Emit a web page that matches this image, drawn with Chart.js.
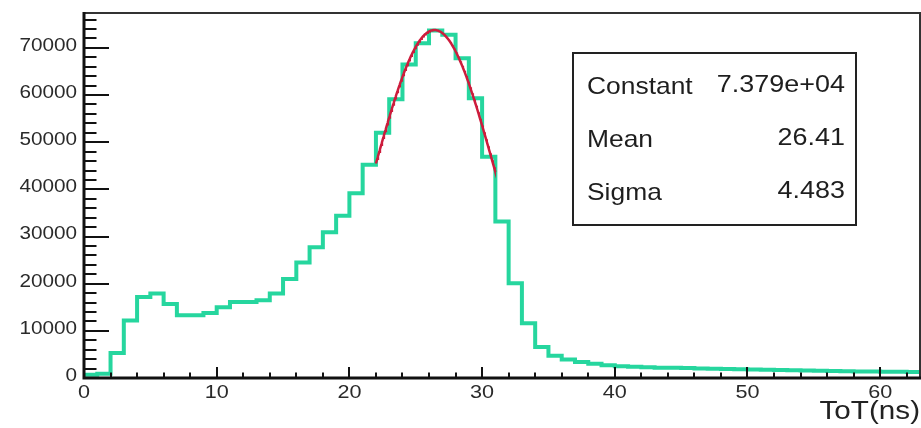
<!DOCTYPE html>
<html>
<head>
<meta charset="utf-8">
<title>ToT distribution</title>
<script src="https://cdn.jsdelivr.net/npm/chart.js@4/dist/chart.umd.min.js"></script>
<style>
  html, body { margin: 0; padding: 0; background: #ffffff; }
  canvas { display: block; }
</style>
</head>
<body>
<canvas id="c" width="921" height="428"></canvas>
<script>
// Lower edges of the 1 ns ToT bins
const binLow = [
   0,  1,  2,  3,  4,  5,  6,  7,  8,  9,
  10, 11, 12, 13, 14, 15, 16, 17, 18, 19,
  20, 21, 22, 23, 24, 25, 26, 27, 28, 29,
  30, 31, 32, 33, 34, 35, 36, 37, 38, 39,
  40, 41, 42, 43, 44, 45, 46, 47, 48, 49,
  50, 51, 52, 53, 54, 55, 56, 57, 58, 59,
  60, 61, 62
];
const binHigh = 63;

// Entries per bin
const counts = [
    700,   900,  5300, 12200, 17150, 17900, 15700, 13300, 13300, 13800,
  15000, 16100, 16100, 16500, 17900, 21000, 24500, 27700, 30900, 34400,
  39200, 45200, 52000, 59100, 66500, 71000, 73700, 72800, 67800, 59300,
  46900, 33200, 20100, 11600,  6600,  4700,  3900,  3400,  3000,  2700,
   2500,  2400,  2300,  2200,  2150,  2100,  2000,  1950,  1900,  1850,
   1800,  1750,  1700,  1650,  1600,  1550,  1500,  1450,  1400,  1380,
   1350,  1300,  1280
];

// Gaussian fit result and its range
const fitConstant = 73790;
const fitMean = 26.41;
const fitSigma = 4.483;
const fitRange = [22, 31];

// Axis ticks and stats box text
const xTickValues = [0, 10, 20, 30, 40, 50, 60];
const yTickValues = [0, 10000, 20000, 30000, 40000, 50000, 60000, 70000];
const yMax = 77400;
const xTitle = 'ToT(ns)';
const statNames = ['Constant', 'Mean', 'Sigma'];
const statValues = ['7.379e+04', '26.41', '4.483'];

const FONT = '"Liberation Sans", Arial, Helvetica, sans-serif';
const TEAL = 'rgb(38, 214, 158)';
const RED = 'rgb(205, 28, 60)';

const histPoints = binLow.map((x, i) => ({ x: x, y: counts[i] }));
histPoints.push({ x: binHigh, y: counts[counts.length - 1] });

const fitPoints = [];
for (let x = fitRange[0]; x <= fitRange[1] + 1e-9; x += 0.05) {
  const d = (x - fitMean) / fitSigma;
  fitPoints.push({ x: x, y: fitConstant * Math.exp(-0.5 * d * d) });
}

// Horizontally widened text, drawn straight onto the canvas
function drawText(ctx, s, x, y, align, size, sx, color) {
  ctx.save();
  ctx.translate(x, y);
  ctx.scale(sx, 1);
  ctx.font = size + 'px ' + FONT;
  ctx.fillStyle = color;
  ctx.textAlign = align;
  ctx.textBaseline = 'middle';
  ctx.fillText(s, 0, 0);
  ctx.restore();
}

// Frame, inward ticks, labels and the stats box
const framePlugin = {
  id: 'rootFrame',
  afterDatasetsDraw(chart) {
    const ctx = chart.ctx;
    const xs = chart.scales.x;
    const ys = chart.scales.y;
    const a = chart.chartArea;
    ctx.save();

    // ticks
    ctx.strokeStyle = '#111';
    ctx.lineWidth = 2;
    ctx.beginPath();
    for (let v = 0; v <= yMax; v += 2000) {
      const py = Math.round(ys.getPixelForValue(v));
      const major = v % 10000 === 0;
      ctx.moveTo(a.left, py);
      ctx.lineTo(a.left + (major ? 25 : 12.5), py);
    }
    for (let v = 0; v < binHigh; v += 2) {
      const px = Math.round(xs.getPixelForValue(v));
      const major = v % 10 === 0;
      ctx.moveTo(px, a.bottom);
      ctx.lineTo(px, a.bottom - (major ? 11 : 5.5));
    }
    ctx.stroke();

    // frame
    ctx.lineWidth = 2;
    ctx.strokeStyle = '#333';
    ctx.beginPath();
    ctx.moveTo(a.left, a.top);
    ctx.lineTo(a.right, a.top);
    ctx.lineTo(a.right, a.bottom);
    ctx.stroke();
    ctx.lineWidth = 3;
    ctx.strokeStyle = '#111';
    ctx.beginPath();
    ctx.moveTo(a.left, a.top - 1);
    ctx.lineTo(a.left, a.bottom);
    ctx.lineTo(a.right + 1, a.bottom);
    ctx.stroke();

    // tick labels
    yTickValues.forEach(v => {
      drawText(ctx, String(v), a.left - 7, ys.getPixelForValue(v) - 2, 'right', 18, 1.15, '#2a2a2a');
    });
    xTickValues.forEach(v => {
      drawText(ctx, String(v), xs.getPixelForValue(v), a.bottom + 15, 'center', 18, 1.2, '#2a2a2a');
    });
    drawText(ctx, xTitle, 920, 412, 'right', 26, 1.14, '#222');

    // stats box
    ctx.fillStyle = '#ffffff';
    ctx.fillRect(573, 53, 283, 172);
    ctx.lineWidth = 2;
    ctx.strokeStyle = '#222';
    ctx.strokeRect(573, 53, 283, 172);
    const rowY = [87, 140, 193];
    statNames.forEach((n, i) => {
      drawText(ctx, n, 587, rowY[i], 'left', 24, 1.1, '#1e1e1e');
      drawText(ctx, statValues[i], 845, rowY[i] - 2, 'right', 24.5, 1.1, '#1e1e1e');
    });
    ctx.restore();
  }
};

new Chart(document.getElementById('c'), {
  type: 'line',
  data: {
    datasets: [
      {
        label: 'fit',
        data: fitPoints,
        borderColor: RED,
        borderWidth: 2.5,
        pointRadius: 0,
        tension: 0,
        order: 0
      },
      {
        label: 'ToT',
        data: histPoints,
        borderColor: TEAL,
        borderWidth: 4,
        pointRadius: 0,
        stepped: true,
        order: 1
      }
    ]
  },
  options: {
    responsive: false,
    animation: false,
    devicePixelRatio: 1,
    layout: { padding: { left: 84, top: 13, right: 1, bottom: 50 } },
    scales: {
      x: { type: 'linear', min: 0, max: binHigh, display: false },
      y: { type: 'linear', min: 0, max: yMax, display: false }
    },
    plugins: {
      legend: { display: false },
      tooltip: { enabled: false }
    }
  },
  plugins: [framePlugin]
});
</script>
</body>
</html>
